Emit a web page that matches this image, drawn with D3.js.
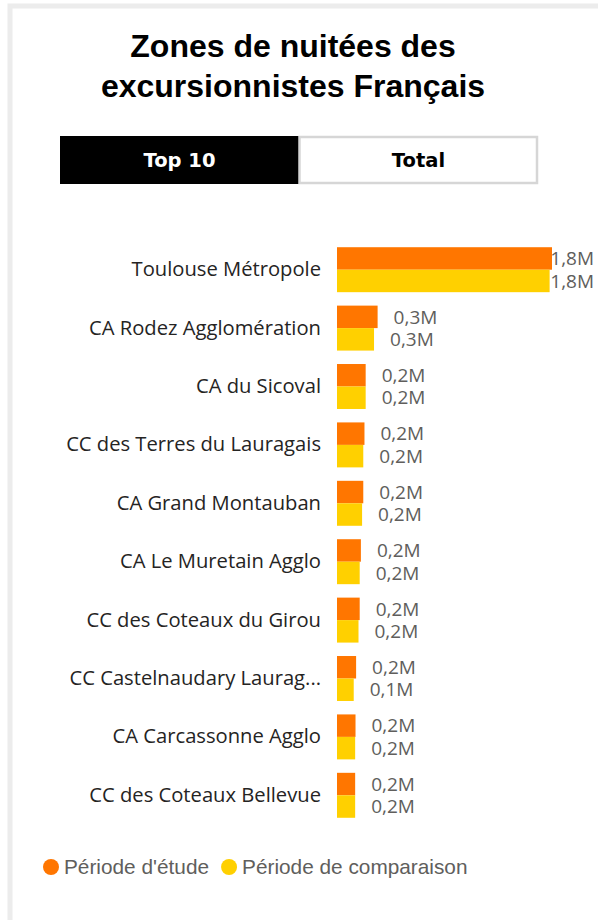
<!DOCTYPE html>
<html>
<head>
<meta charset="utf-8">
<script src="https://cdn.jsdelivr.net/npm/d3@7"></script>
<style>
  body { margin: 0; background: #fff; }
</style>
</head>
<body>
<div class="vis-holder"></div>
<script>
var categories = [
  "Toulouse Métropole",
  "CA Rodez Agglomération",
  "CA du Sicoval",
  "CC des Terres du Lauragais",
  "CA Grand Montauban",
  "CA Le Muretain Agglo",
  "CC des Coteaux du Girou",
  "CC Castelnaudary Laurag...",
  "CA Carcassonne Agglo",
  "CC des Coteaux Bellevue"
];
// millions de nuitées
var etude = [1.80, 0.34, 0.24, 0.23, 0.22, 0.20, 0.19, 0.16, 0.155, 0.152];
var comparaison = [1.78, 0.31, 0.24, 0.22, 0.21, 0.19, 0.18, 0.14, 0.152, 0.152];
var seriesNames = ["Période d'étude", "Période de comparaison"];
var buttons = ["Top 10", "Total"];
var titleLines = ["Zones de nuitées des", "excursionnistes Français"];

var colors = ["#FF7600", "#FFD000"];

var width = 598;
var height = 920;

var svg = d3.select('div.vis-holder')
            .append('svg')
            .attr('width', width)
            .attr('height', height)
            .style('display', 'block');

// card border
svg.append('rect')
   .attr('x', 10)
   .attr('y', 6)
   .attr('width', 700)
   .attr('height', 1000)
   .attr('fill', 'none')
   .attr('stroke', '#ececec')
   .attr('stroke-width', 5);

// title
svg.append('g')
   .selectAll('text')
   .data(titleLines)
   .enter()
   .append('text')
   .attr('x', 293)
   .attr('y', function(d, i) { return 57 + i * 40; })
   .attr('text-anchor', 'middle')
   .style('font-family', '"Liberation Sans", Arial, sans-serif')
   .style('font-weight', 'bold')
   .style('font-size', '32px')
   .style('fill', '#000')
   .text(function(d) { return d; });

// slicer buttons
var btnX = d3.scaleBand().domain(buttons).range([60, 538]).padding(0);
var btn = svg.append('g')
             .selectAll('g')
             .data(buttons)
             .enter()
             .append('g');

btn.append('rect')
   .attr('x', function(d, i) { return btnX(d) + (i ? 0.5 : 0); })
   .attr('y', function(d, i) { return i ? 137 : 136; })
   .attr('width', function(d, i) { return btnX.bandwidth() - (i ? 1.5 : 0); })
   .attr('height', function(d, i) { return i ? 46 : 48; })
   .attr('fill', function(d, i) { return i ? '#fff' : '#000'; })
   .attr('stroke', function(d, i) { return i ? '#d6d6d6' : 'none'; })
   .attr('stroke-width', 2.5);

btn.append('text')
   .attr('x', function(d) { return btnX(d) + btnX.bandwidth() / 2; })
   .attr('y', 167)
   .attr('text-anchor', 'middle')
   .style('font-family', '"DejaVu Sans", sans-serif')
   .style('font-weight', 'bold')
   .style('font-size', '19.5px')
   .style('fill', function(d, i) { return i ? '#000' : '#fff'; })
   .text(function(d) { return d; });

// bars
var xScale = d3.scaleLinear()
               .domain([0, d3.max(etude)])
               .range([337, 552]);

var yScale = d3.scaleBand()
               .domain(categories)
               .range([240.5, 824.5])
               .paddingInner(0.23)
               .paddingOuter(0.115);

var inner = d3.scaleBand()
              .domain([0, 1])
              .range([0, yScale.bandwidth()]);

var rows = categories.map(function(c, i) {
  return { cat: c, values: [etude[i], comparaison[i]] };
});

var yAxis = svg.append('g')
               .attr('transform', 'translate(321, 0)')
               .call(d3.axisLeft(yScale).tickSize(0).tickPadding(0));
yAxis.select('.domain').remove();
yAxis.selectAll('text')
     .style('font-family', '"Open Sans", "Noto Sans", sans-serif')
     .style('font-size', '20.2px')
     .style('fill', '#252423');

var fmt = function(v) { return d3.format('.1f')(v).replace('.', ',') + 'M'; };

var group = svg.append('g')
               .selectAll('g')
               .data(rows)
               .enter()
               .append('g')
               .attr('transform', function(d) { return 'translate(0,' + yScale(d.cat) + ')'; });

group.selectAll('rect')
     .data(function(d) { return d.values; })
     .enter()
     .append('rect')
     .attr('x', xScale(0))
     .attr('y', function(d, i) { return inner(i); })
     .attr('width', function(d) { return xScale(d) - xScale(0); })
     .attr('height', inner.bandwidth())
     .style('fill', function(d, i) { return colors[i]; });

group.selectAll('text')
     .data(function(d) { return d.values; })
     .enter()
     .append('text')
     .attr('x', function(d) { return xScale(d) + 16; })
     .attr('y', function(d, i) { return inner(i) + inner.bandwidth() / 2; })
     .attr('dy', '0.35em')
     .style('font-family', '"Open Sans", "Noto Sans", sans-serif')
     .style('font-size', '19px')
     .style('fill', '#605E5C')
     .text(function(d) { return fmt(d); })
     .each(function(d) {
       var w = this.getComputedTextLength();
       if (xScale(d) + 16 + w > 594) {
         d3.select(this).attr('x', 594).attr('text-anchor', 'end');
       }
     });

// legend
var legend = svg.append('g')
                .attr('transform', 'translate(0, 867)');
var lx = 51;
seriesNames.forEach(function(name, i) {
  legend.append('circle')
        .attr('cx', lx)
        .attr('cy', 0)
        .attr('r', 8)
        .style('fill', colors[i]);
  var t = legend.append('text')
                .attr('x', lx + 13)
                .attr('y', 0)
                .attr('dy', '0.35em')
                .style('font-family', '"Liberation Sans", Arial, sans-serif')
                .style('font-size', '20.8px')
                .style('fill', '#605E5C')
                .text(name);
  lx = lx + 13 + t.node().getComputedTextLength() + 20;
});
</script>
</body>
</html>
